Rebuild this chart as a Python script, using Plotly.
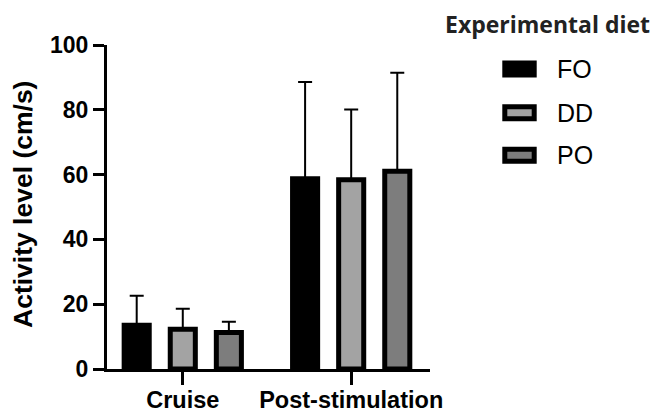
import plotly.graph_objects as go

# Activity by feeding phase and experimental diet (mean + upper SD)
phases = ["Cruise", "Post-stimulation"]
diets = ["FO", "DD", "PO"]
fo_mean = [13.5, 58.7]
dd_mean = [12.3, 58.4]
po_mean = [11.3, 61.0]
fo_sd = [9.1, 29.9]
dd_sd = [6.3, 21.7]
po_sd = [3.3, 30.4]
fills = ["#000000", "#a3a3a3", "#7d7d7d"]
y_ticks = [0, 20, 40, 60, 80, 100]

means = [fo_mean, dd_mean, po_mean]
sds = [fo_sd, dd_sd, po_sd]

W, H = 667, 412
L, R, T, B = 107, 237, 45, 43
PW, PH = W - L - R, H - T - B


def px_x(p):
    return (p - L) / PW


def px_y(p):
    return (H - B - p) / PH


fig = go.Figure()
for name, m, s, c in zip(diets, means, sds, fills):
    fig.add_trace(go.Bar(
        name=name, x=phases, y=m,
        marker=dict(color=c, line=dict(color="black", width=5)),
        error_y=dict(type="data", array=s, arrayminus=[0] * len(s),
                     symmetric=False, color="black", thickness=2, width=7),
        showlegend=False,
    ))

axis_font = dict(family="Liberation Sans", color="black", weight="bold")

fig.update_layout(
    width=W, height=H,
    margin=dict(l=L, r=R, t=T, b=B, pad=0, autoexpand=False),
    paper_bgcolor="white", plot_bgcolor="white",
    barmode="group", bargap=0.179, bargroupgap=0.456,
    xaxis=dict(
        range=[-0.45, 1.468], showline=True, linecolor="black", linewidth=3,
        ticks="outside", ticklen=13, tickwidth=3, tickcolor="black",
        showgrid=False, zeroline=False, automargin=False,
        ticklabelstandoff=-5,
        tickfont=dict(size=23.5, **axis_font),
    ),
    yaxis=dict(
        range=[0, 100], tickvals=y_ticks, showline=True, linecolor="black",
        linewidth=3, ticks="outside", ticklen=11, tickwidth=3,
        tickcolor="black", showgrid=False, zeroline=False, automargin=False,
        tickfont=dict(size=23, **axis_font),
    ),
)

# Y axis title
fig.add_annotation(
    text="Activity level (cm/s)", textangle=-90,
    xref="paper", yref="paper", x=px_x(23), y=px_y(205),
    xanchor="center", yanchor="middle", showarrow=False,
    font=dict(size=26.5, **axis_font),
)

# Legend drawn as swatches + labels
fig.add_annotation(
    text="<b>Experimental diet</b>", xref="paper", yref="paper",
    x=px_x(547), y=px_y(24), xanchor="center", yanchor="middle",
    showarrow=False, font=dict(family="Open Sans", size=23, color="#222222"),
)
row_y = [69, 112.7, 155.3]
for name, c, cy in zip(diets, fills, row_y):
    fig.add_shape(
        type="rect", xref="paper", yref="paper",
        x0=px_x(504.8), x1=px_x(534.2), y0=px_y(cy - 6), y1=px_y(cy + 6),
        fillcolor=c, line=dict(color="black", width=5),
    )
    fig.add_annotation(
        text=name, xref="paper", yref="paper", x=px_x(555), y=px_y(cy),
        xanchor="left", yanchor="middle", showarrow=False,
        font=dict(family="Liberation Sans", size=25, color="black"),
    )

fig.write_html("out.html")
